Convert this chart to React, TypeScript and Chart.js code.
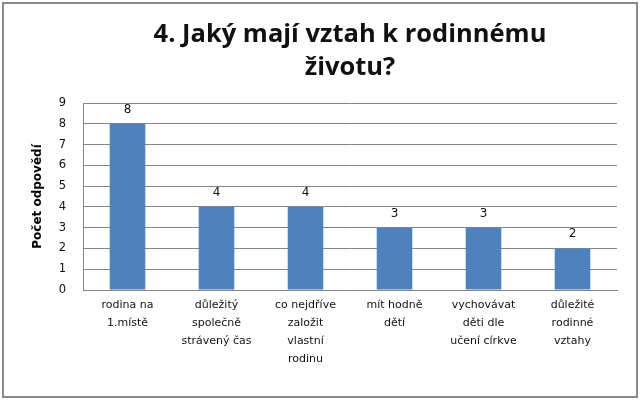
import React, { useEffect, useRef } from "react";
import { Chart, registerables } from "chart.js";

Chart.register(...registerables);

const titleLines = ["4. Jaký mají vztah k rodinnému", "životu?"];
const yAxisTitle = "Počet odpovědí";
const categories: string[][] = [
  ["rodina na", "1.místě"],
  ["důležitý", "společně", "strávený čas"],
  ["co nejdříve", "založit", "vlastní", "rodinu"],
  ["mít hodně", "dětí"],
  ["vychovávat", "děti dle", "učení církve"],
  ["důležité", "rodinné", "vztahy"],
];
const values = [8, 4, 4, 3, 3, 2];
const yMin = 0;
const yMax = 9;
const yStep = 1;

const TICK_FONT = "'DejaVu Sans', sans-serif";

const framePlugin = {
  id: "frame",
  beforeDraw(chart: any) {
    const ctx = chart.ctx;
    ctx.save();
    ctx.fillStyle = "#ffffff";
    ctx.fillRect(0, 0, chart.width, chart.height);
    ctx.restore();
  },
  afterDraw(chart: any) {
    const ctx = chart.ctx;
    ctx.save();
    ctx.strokeStyle = "#8a8a8a";
    ctx.lineWidth = 2;
    ctx.strokeRect(3, 3, chart.width - 6, chart.height - 6);
    ctx.restore();
  },
};

const valueLabelPlugin = {
  id: "valueLabels",
  afterDatasetsDraw(chart: any) {
    const ctx = chart.ctx;
    ctx.save();
    ctx.font = `12px ${TICK_FONT}`;
    ctx.fillStyle = "#111111";
    ctx.textAlign = "center";
    ctx.textBaseline = "alphabetic";
    chart.data.datasets.forEach((ds: any, di: number) => {
      const meta = chart.getDatasetMeta(di);
      meta.data.forEach((el: any, i: number) => {
        ctx.fillText(String(ds.data[i]), el.x, el.y - 11);
      });
    });
    ctx.restore();
  },
};

export default function App() {
  const ref = useRef<HTMLCanvasElement | null>(null);

  useEffect(() => {
    document.body.style.margin = "0";
    if (!ref.current) return;
    const chart = new Chart(ref.current, {
      type: "bar",
      data: {
        labels: categories,
        datasets: [
          {
            data: values,
            backgroundColor: "#4f81bd",
            borderWidth: 0,
            barPercentage: 0.4,
            categoryPercentage: 1,
          },
        ],
      },
      options: {
        responsive: false,
        animation: false,
        devicePixelRatio: 1,
        layout: { padding: { left: 31, right: 23, top: 18, bottom: 4 } },
        plugins: {
          legend: { display: false },
          tooltip: { enabled: false },
          title: {
            display: true,
            text: titleLines,
            fullSize: false,
            color: "#111111",
            font: { family: "'Open Sans', sans-serif", size: 25.5, weight: "bold", lineHeight: 33 / 25.5 },
            padding: { top: 0, bottom: 19 },
          },
        },
        scales: {
          x: {
            grid: { display: false, drawTicks: false },
            border: { display: true, color: "#868686", width: 1 },
            ticks: {
              autoSkip: false,
              maxRotation: 0,
              minRotation: 0,
              padding: 6,
              color: "#111111",
              font: { family: TICK_FONT, size: 11, lineHeight: 18 / 11 },
            },
            afterFit(scale: any) {
              scale.height = 106;
            },
          },
          y: {
            min: yMin,
            max: yMax,
            grid: { color: "#868686", drawTicks: false, lineWidth: 1 },
            border: { display: true, color: "#868686", width: 1 },
            ticks: {
              stepSize: yStep,
              padding: 17,
              color: "#111111",
              font: { family: TICK_FONT, size: 11.5 },
            },
            title: {
              display: true,
              text: yAxisTitle,
              color: "#000000",
              font: { family: TICK_FONT, size: 12, weight: "bold", lineHeight: 1.2 },
              padding: 0,
            },
            afterFit(scale: any) {
              scale.width = 52;
            },
          },
        },
      },
      plugins: [framePlugin, valueLabelPlugin],
    });
    return () => chart.destroy();
  }, []);

  return (
    <div style={{ position: "absolute", left: 0, top: 0, width: 640, height: 400 }}>
      <canvas ref={ref} width={640} height={400} />
    </div>
  );
}
